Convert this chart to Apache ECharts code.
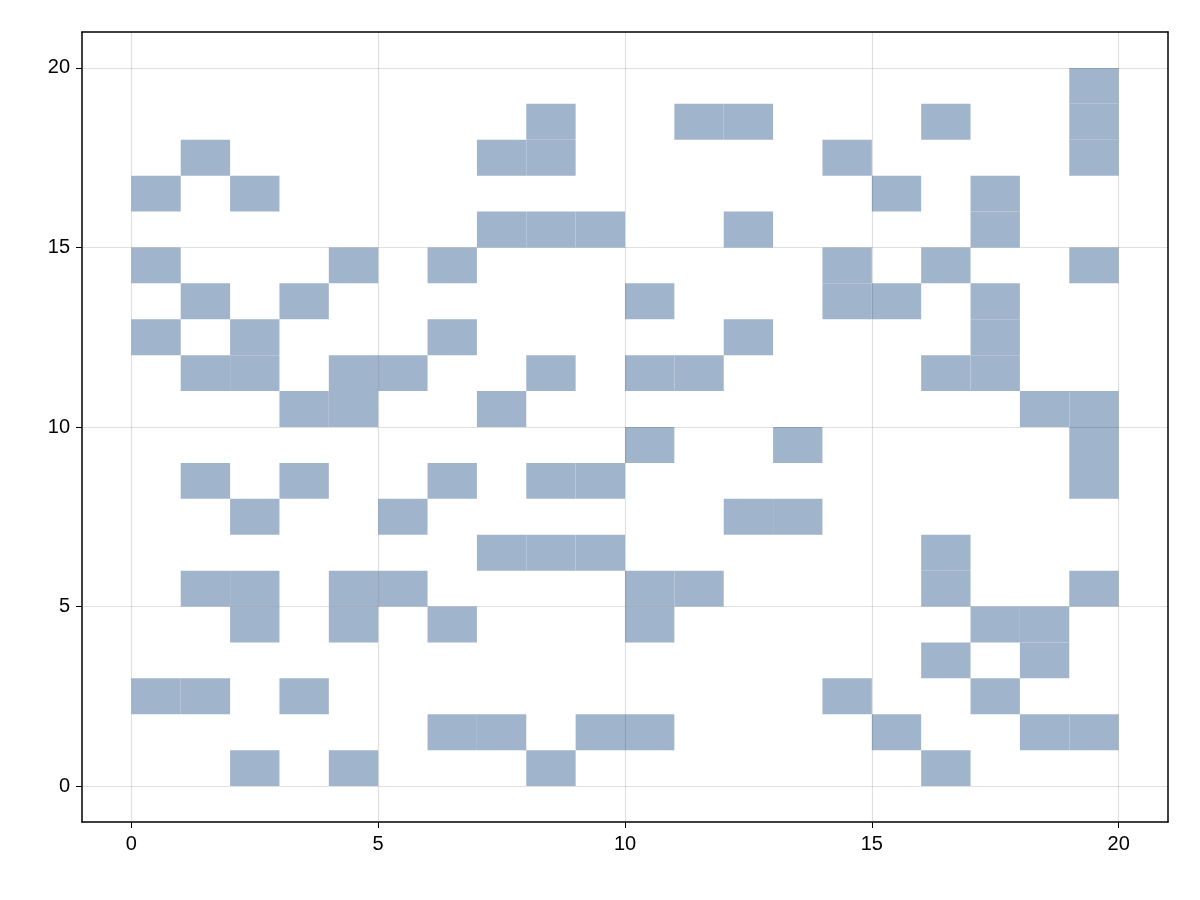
<!DOCTYPE html>
<html><head><meta charset="utf-8">
<script src="https://cdn.jsdelivr.net/npm/echarts@6/dist/echarts.min.js"></script>
<style>html,body{margin:0;padding:0;background:#fff}#c{width:1200px;height:900px}</style>
</head><body><div id="c"></div>
<script>
const tickValues = [0, 5, 10, 15, 20];
// filled cells per row (row index = lower y edge), listing lower x edges
const rows = {
  19: [19],
  18: [8, 11, 12, 16, 19],
  17: [1, 7, 8, 14, 19],
  16: [0, 2, 15, 17],
  15: [7, 8, 9, 12, 17],
  14: [0, 4, 6, 14, 16, 19],
  13: [1, 3, 10, 14, 15, 17],
  12: [0, 2, 6, 12, 17],
  11: [1, 2, 4, 5, 8, 10, 11, 16, 17],
  10: [3, 4, 7, 18, 19],
  9: [10, 13, 19],
  8: [1, 3, 6, 8, 9, 19],
  7: [2, 5, 12, 13],
  6: [7, 8, 9, 16],
  5: [1, 2, 4, 5, 10, 11, 16, 19],
  4: [2, 4, 6, 10, 17, 18],
  3: [16, 18],
  2: [0, 1, 3, 14, 17],
  1: [6, 7, 9, 10, 15, 18, 19],
  0: [2, 4, 8, 16]
};
const cells = [];
Object.keys(rows).forEach(r => rows[r].forEach(x => cells.push([x, +r])));

const font = {fontFamily: 'Liberation Sans, Arial, sans-serif', fontSize: 20, color: '#000'};
const baseAxis = (pos, idx) => ({
  type: 'value', min: -1, max: 21, position: pos,
  axisLine: {show: true, onZero: false, lineStyle: {color: '#000', width: 1.5}},
  axisTick: {show: idx === 0, customValues: tickValues, length: 6, lineStyle: {color: '#000'}},
  axisLabel: idx === 0 ? Object.assign({customValues: tickValues, margin: 12}, font) : {show: false},
  splitLine: {show: false}
});
const chart = echarts.init(document.getElementById('c'), null, {renderer: 'canvas'});
chart.setOption({
  animation: false,
  grid: {left: 82, right: 32, top: 32, bottom: 78},
  xAxis: [baseAxis('bottom', 0), baseAxis('top', 1)],
  yAxis: [baseAxis('left', 0), baseAxis('right', 1)],
  series: [{
    type: 'custom',
    data: cells,
    renderItem: (params, api) => {
      const x = api.value(0), y = api.value(1);
      const p0 = api.coord([x, y + 1]);
      const p1 = api.coord([x + 1, y]);
      return {type: 'rect', shape: {x: p0[0], y: p0[1], width: p1[0] - p0[0], height: p1[1] - p0[1]},
        style: {fill: '#a0b5cc'}};
    },
    markLine: {
      silent: true, symbol: 'none', label: {show: false},
      lineStyle: {color: 'rgba(0,0,0,0.12)', type: 'solid', width: 1.2},
      data: tickValues.map(v => ({xAxis: v})).concat(tickValues.map(v => ({yAxis: v})))
    }
  }]
});
</script></body></html>
